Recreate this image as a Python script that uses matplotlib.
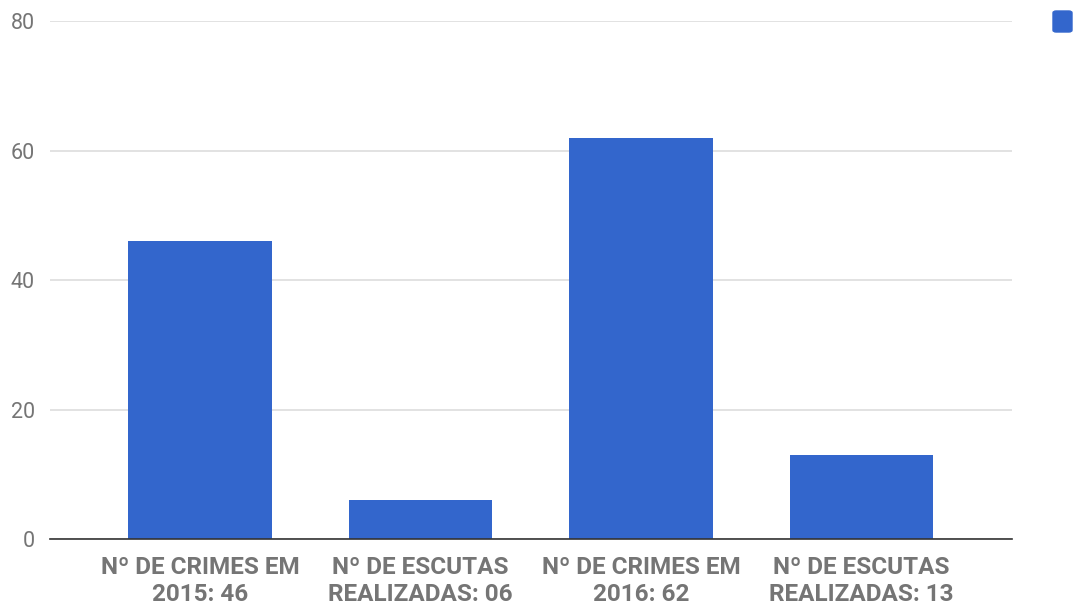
import matplotlib.pyplot as plt
from matplotlib.patches import FancyBboxPatch

# chart data
categories = ['Nº DE CRIMES EM\n2015: 46', 'Nº DE ESCUTAS\nREALIZADAS: 06',
              'Nº DE CRIMES EM\n2016: 62', 'Nº DE ESCUTAS\nREALIZADAS: 13']
values = [46, 6, 62, 13]
yticks = [0, 20, 40, 60, 80]

plt.rcParams['font.family'] = ['Roboto', 'DejaVu Sans']

fig = plt.figure(figsize=(10.75, 6.13), dpi=100)
ax = fig.add_axes([0.0465, 0.1207, 0.8945, 0.845])

x = range(len(values))
bars = ax.bar(x, values, width=0.65, color='#3366cc', zorder=3)

ax.set_xlim(-0.68, len(values) - 1 + 0.68)
ax.set_ylim(0, 80)
ax.set_yticks(yticks)
ax.set_yticklabels([str(t) for t in yticks], fontsize=15.5, color='#757575')
ax.set_xticks(list(x))
ax.set_xticklabels(categories, fontsize=17.5, fontweight='bold', color='#757575',
                   linespacing=1.25)
ax.tick_params(axis='both', length=0)
ax.tick_params(axis='y', pad=11)
ax.tick_params(axis='x', pad=12)

ax.grid(axis='y', color='#dddddd', linewidth=1.2, zorder=0)
for s in ['top', 'right', 'left']:
    ax.spines[s].set_visible(False)
ax.spines['bottom'].set_color('#333333')
ax.spines['bottom'].set_linewidth(1.2)
ax.spines['bottom'].set_zorder(4)

# legend square (its label is cut off at the right edge of the image)
W, H = 1075, 613
fig.add_artist(FancyBboxPatch((1053 / W, (H - 32) / H), 19 / W, 21 / H,
                              boxstyle='round,pad=0,rounding_size=0.003',
                              transform=fig.transFigure, color='#3366cc'))

fig.savefig('out.png', dpi=100)
